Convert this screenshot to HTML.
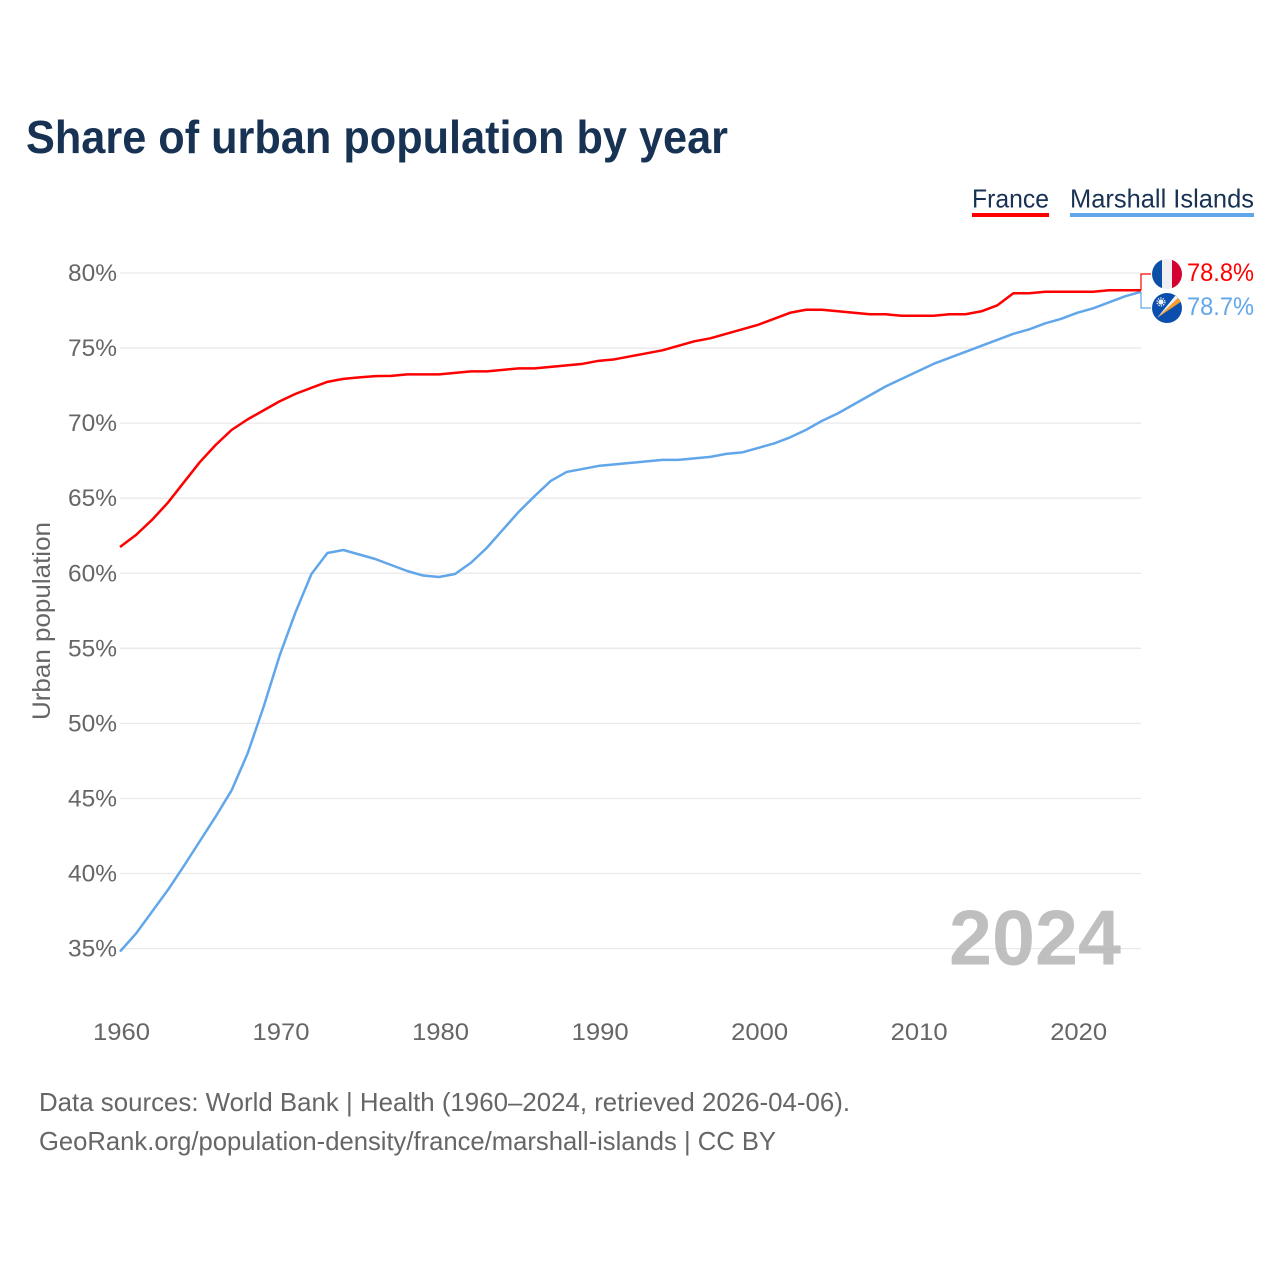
<!DOCTYPE html>
<html lang="en">
<head>
<meta charset="utf-8">
<title>Share of urban population by year</title>
<style>
html,body{margin:0;padding:0;background:#fff;width:1280px;height:1280px;overflow:hidden}
svg{display:block;font-family:"Liberation Sans",sans-serif}
</style>
</head>
<body>
<svg id="chart" width="1280" height="1280" viewBox="0 0 1280 1280" xmlns="http://www.w3.org/2000/svg">
  <defs>
    <clipPath id="clip-fr"><circle cx="1167" cy="274" r="15"/></clipPath>
    <clipPath id="clip-mh"><circle cx="1167" cy="308" r="15"/></clipPath>
  </defs>
  <rect width="1280" height="1280" fill="#fff"/>
  <text x="26" y="153" font-size="46" font-weight="700" fill="#173253" textLength="702" lengthAdjust="spacingAndGlyphs">Share of urban population by year</text>

  <g>
    <g>
      <text x="972" y="207.5" font-size="26" fill="#173253" textLength="77" lengthAdjust="spacingAndGlyphs">France</text>
      <rect x="972" y="213" width="77" height="4" fill="#ff0000"/>
    </g>
    <g>
      <text x="1070" y="207.5" font-size="26" fill="#173253" textLength="184" lengthAdjust="spacingAndGlyphs">Marshall Islands</text>
      <rect x="1070" y="213" width="184" height="4" fill="#62a6ea"/>
    </g>
  </g>

  <g id="grid"></g>
  <g id="yticks"></g>
  <g id="xticks"></g>

  <text x="949" y="964.5" font-size="78" font-weight="700" fill="#b4b4b4" fill-opacity="0.85" textLength="172" lengthAdjust="spacingAndGlyphs">2024</text>

  <text transform="translate(50,621) rotate(-90)" text-anchor="middle" font-size="25" fill="#666" textLength="198" lengthAdjust="spacingAndGlyphs">Urban population</text>

  <path id="line-mh" fill="none" stroke="#62a6ea" stroke-width="2.5" stroke-linejoin="round"/>
  <path id="line-fr" fill="none" stroke="#ff0000" stroke-width="2.5" stroke-linejoin="round"/>

  <path id="conn-fr" fill="none" stroke="#ff0000" stroke-width="1.2"/>
  <path id="conn-mh" fill="none" stroke="#62a6ea" stroke-width="1.2"/>

  <g clip-path="url(#clip-fr)">
    <rect x="1152" y="259" width="10" height="30" fill="#0b50a6"/>
    <rect x="1162" y="259" width="10" height="30" fill="#efeff1"/>
    <rect x="1172" y="259" width="10" height="30" fill="#d4002f"/>
  </g>
  <g clip-path="url(#clip-mh)">
    <rect x="1152" y="293" width="30" height="30" fill="#0b4fae"/>
    <polygon points="1157,318 1182,294 1182,301" fill="#f59e2e"/>
    <polygon points="1157,318 1175,296 1180,296" fill="#f1f1f1"/>
    <circle cx="1161" cy="302" r="2.6" fill="#f1f1f1"/>
    <circle cx="1161" cy="302" r="3.9" fill="none" stroke="#f1f1f1" stroke-width="1.4" stroke-dasharray="1.3 1.2"/>
  </g>

  <text x="1187" y="281" font-size="25" fill="#ff0000" textLength="67" lengthAdjust="spacingAndGlyphs">78.8%</text>
  <text x="1187" y="315" font-size="25" fill="#62a6ea" textLength="67" lengthAdjust="spacingAndGlyphs">78.7%</text>

  <text x="39" y="1111" font-size="26" fill="#666" textLength="811" lengthAdjust="spacingAndGlyphs">Data sources: World Bank | Health (1960–2024, retrieved 2026-04-06).</text>
  <text x="39" y="1150" font-size="26" fill="#666" textLength="737" lengthAdjust="spacingAndGlyphs">GeoRank.org/population-density/france/marshall-islands | CC BY</text>
</svg>
<script>
const startYear = 1960;
const endYear = 2024;
const franceValues = [61.75,62.55,63.55,64.7,66.05,67.4,68.55,69.55,70.25,70.85,71.45,71.95,72.35,72.75,72.95,73.05,73.13,73.15,73.25,73.25,73.25,73.35,73.45,73.45,73.55,73.65,73.65,73.75,73.85,73.95,74.15,74.25,74.45,74.65,74.85,75.15,75.45,75.65,75.95,76.25,76.55,76.95,77.35,77.55,77.55,77.45,77.35,77.25,77.25,77.15,77.15,77.15,77.25,77.25,77.45,77.85,78.65,78.65,78.75,78.75,78.75,78.75,78.85,78.85,78.85];
const marshallValues = [34.8,36.0,37.45,38.9,40.5,42.15,43.8,45.55,48.0,51.1,54.5,57.4,59.95,61.35,61.55,61.25,60.95,60.55,60.15,59.85,59.75,59.95,60.7,61.7,62.9,64.1,65.15,66.15,66.75,66.95,67.15,67.25,67.35,67.45,67.55,67.55,67.65,67.75,67.95,68.05,68.35,68.65,69.05,69.55,70.15,70.65,71.25,71.85,72.45,72.95,73.45,73.95,74.35,74.75,75.15,75.55,75.95,76.25,76.65,76.95,77.35,77.65,78.05,78.45,78.75];
const yTickValues = [35,40,45,50,55,60,65,70,75,80];
const xTickValues = [1960,1970,1980,1990,2000,2010,2020];

const SVG_NS = 'http://www.w3.org/2000/svg';
function xScale(year){ return 120 + (year - startYear) * (1141 - 120) / (endYear - startYear); }
function yScale(v){ return 273 + (80 - v) * (948.6 - 273) / 45; }
function linePath(values){
  return values.map(function(v,i){
    return (i ? 'L' : 'M') + xScale(startYear + i).toFixed(2) + ' ' + yScale(v).toFixed(2);
  }).join('');
}

const grid = document.getElementById('grid');
const yticks = document.getElementById('yticks');
const xticks = document.getElementById('xticks');

yTickValues.forEach(function(v){
  const l = document.createElementNS(SVG_NS,'line');
  
  
  l.setAttribute('x1', xScale(startYear));
  l.setAttribute('x2', xScale(endYear));
  l.setAttribute('y1', yScale(v));
  l.setAttribute('y2', yScale(v));
  l.setAttribute('stroke', '#e9e9e9');
  l.setAttribute('stroke-width', '1.3');
  grid.appendChild(l);

  const t = document.createElementNS(SVG_NS,'text');
  
  
  t.setAttribute('x', 117);
  t.setAttribute('y', yScale(v) + 8);
  t.setAttribute('text-anchor', 'end');
  t.setAttribute('font-size', '24.5');
  t.setAttribute('fill', '#666');
  t.setAttribute('textLength', '49');
  t.setAttribute('lengthAdjust', 'spacingAndGlyphs');
  t.textContent = v + '%';
  yticks.appendChild(t);
});

xTickValues.forEach(function(y){
  const t = document.createElementNS(SVG_NS,'text');
  
  
  t.setAttribute('x', xScale(y) + 1.5);
  t.setAttribute('y', 1040);
  t.setAttribute('text-anchor', 'middle');
  t.setAttribute('font-size', '24.5');
  t.setAttribute('fill', '#666');
  t.setAttribute('textLength', '57');
  t.setAttribute('lengthAdjust', 'spacingAndGlyphs');
  t.textContent = y;
  xticks.appendChild(t);
});

document.getElementById('line-fr').setAttribute('d', linePath(franceValues));
document.getElementById('line-mh').setAttribute('d', linePath(marshallValues));

const endX = xScale(endYear);
const frEnd = yScale(franceValues[franceValues.length - 1]);
const mhEnd = yScale(marshallValues[marshallValues.length - 1]);
document.getElementById('conn-fr').setAttribute('d', 'M' + endX + ' ' + frEnd + 'V274H1151');
document.getElementById('conn-mh').setAttribute('d', 'M' + endX + ' ' + mhEnd + 'V308H1151');
</script>
</body>
</html>
